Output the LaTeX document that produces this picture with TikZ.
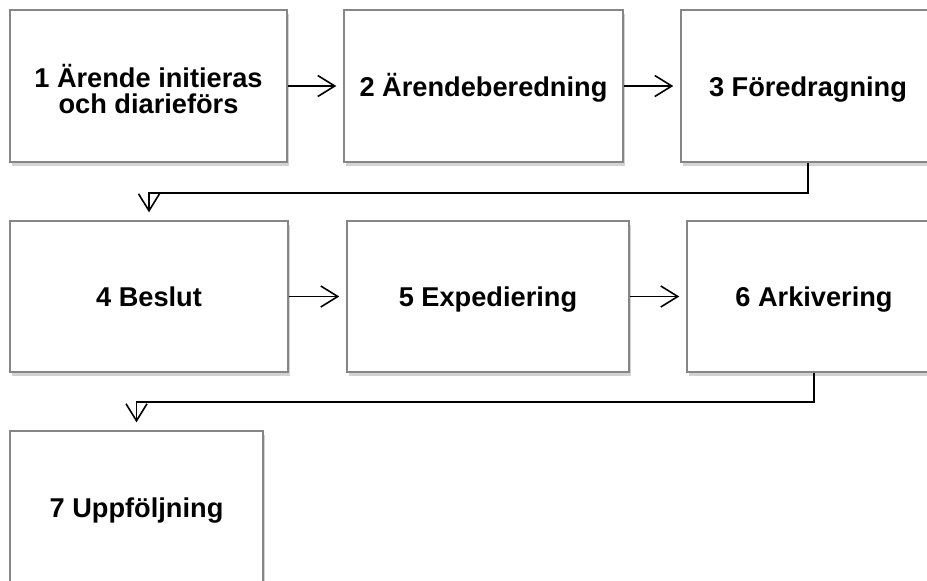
\documentclass[tikz,border=0pt]{standalone}
\usepackage{fontspec}
\setmainfont{Liberation Sans}
\usetikzlibrary{arrows.meta,shadows}
\tikzset{
  stegbox/.style={draw=gray!95, line width=0.7pt, fill=white, inner sep=0pt, align=center,
    font=\bfseries\fontsize{13.6}{13}\selectfont, text height=10.2pt, text depth=0pt,
    drop shadow={shadow xshift=1pt, shadow yshift=-1.8pt, opacity=0.35}},
  pil/.style={line width=0.8pt, -{Straight Barb[length=8.5pt,width=10.5pt]}, shorten >=3.5pt}
}
\begin{document}
\begin{tikzpicture}[x=0.5pt,y=-0.5pt]
	\useasboundingbox (0,0) rectangle (927,580);
	\clip (0,0) rectangle (927,580);
	\node[stegbox, minimum width=138.5pt, minimum height=76pt, text height=27pt] (initiera) at (148.5,86) {1 Ärende initieras\\och diarieförs};
	\node[stegbox, minimum width=139.5pt, minimum height=76pt] (bered) at (483.5,86) {2 Ärendeberedning};
	\node[stegbox, minimum width=127pt, minimum height=76pt] (foredrag) at (808,86) {3 Föredragning};
	\node[stegbox, minimum width=139pt, minimum height=75.5pt] (beslut) at (149,296.5) {4 Beslut};
	\node[stegbox, minimum width=141pt, minimum height=75.5pt] (exped) at (488,296.5) {5 Expediering};
	\node[stegbox, minimum width=127pt, minimum height=75.5pt] (arkiv) at (814,296.5) {6 Arkivering};
	\node[stegbox, minimum width=126.5pt, minimum height=76pt] (uppfolj) at (136.5,507) {7 Uppföljning};
	\draw[pil] (initiera.east) -- (bered.west);
	\draw[pil] (bered.east) -- (foredrag.west);
	\draw[pil, shorten >=4pt] (foredrag.south) -- ++(0,30) -| (beslut.north);
	\draw[pil] (beslut.east) -- (exped.west);
	\draw[pil] (exped.east) -- (arkiv.west);
	\draw[pil, shorten >=4pt] (arkiv.south) -- ++(0,29) -| (uppfolj.north);
\end{tikzpicture}
\end{document}
